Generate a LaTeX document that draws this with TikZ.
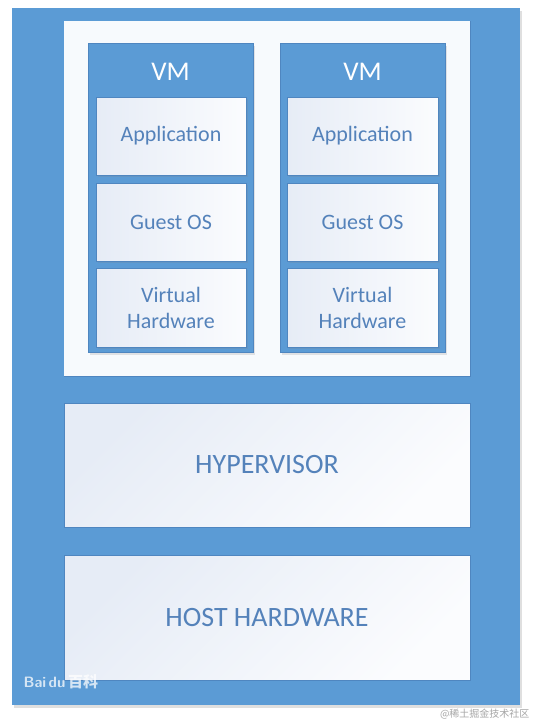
\documentclass[tikz,border=0pt]{standalone}
\usepackage{fontspec}
\setmainfont{Carlito}
\newfontfamily\cjk{Noto Sans CJK SC}
\usetikzlibrary{shadows}
\definecolor{vmblue}{HTML}{5B9BD5}
\definecolor{edgeblue}{HTML}{4F86C0}
\definecolor{txtblue}{HTML}{5482BA}
\definecolor{paleA}{HTML}{E6ECF6}
\definecolor{paleB}{HTML}{FBFCFE}
\tikzset{
  x=1pt, y=-1pt,
  outerbox/.style={fill=vmblue, draw=none, drop shadow={shadow xshift=2pt, shadow yshift=-3pt, opacity=0.25}},
  panel/.style={draw=edgeblue, line width=0.8pt, top color=paleA, bottom color=paleB, shading angle=45},
  vmbox/.style={fill=vmblue, draw=edgeblue, line width=0.6pt, drop shadow={shadow xshift=2pt, shadow yshift=-3pt, opacity=0.2}},
  layer/.style={draw=edgeblue, line width=0.8pt, left color=paleA, right color=paleB, drop shadow={shadow xshift=1.5pt, shadow yshift=-2pt, opacity=0.2}},
  lbl/.style={text=txtblue, font=\fontsize{22}{26}\selectfont, align=center},
  biglbl/.style={text=txtblue, font=\fontsize{28}{32}\selectfont},
  vmlbl/.style={text=white, font=\fontsize{27}{31}\selectfont}
}
\begin{document}
\begin{tikzpicture}
\useasboundingbox (0,0) rectangle (536,724);
\fill[white] (0,0) rectangle (536,724);
% outer
\path[outerbox] (12,8) rectangle (520,705);
% VM container
\path[draw=edgeblue, line width=0.6pt, fill=white!94!vmblue] (64,21) rectangle (470,376);
\node[inner sep=0, minimum width=406pt, minimum height=355pt, fill=white!95!vmblue] (container) at (267,198.5) {};
% VM 1
\path[vmbox] (88,43) rectangle (253,352);
\node[vmlbl] (vm1) at (170.5,72) {VM};
\path[layer] (96,97) rectangle (246,175);
\node[lbl] (app1) at (171,136) {Application};
\path[layer] (96,183) rectangle (246,261);
\node[lbl] (os1) at (171,222) {Guest OS};
\path[layer] (96,268) rectangle (246,347);
\node[lbl] (hw1) at (171,308) {Virtual\\Hardware};
% VM 2
\path[vmbox] (280,43) rectangle (445,352);
\node[vmlbl] (vm2) at (362.5,72) {VM};
\path[layer] (287,97) rectangle (438,175);
\node[lbl] (app2) at (362.5,136) {Application};
\path[layer] (287,183) rectangle (438,261);
\node[lbl] (os2) at (362.5,222) {Guest OS};
\path[layer] (287,268) rectangle (438,347);
\node[lbl] (hw2) at (362.5,308) {Virtual\\Hardware};
% hypervisor
\path[panel] (64,403) rectangle (470,527);
\node[biglbl] (hyp) at (267,465) {HYPERVISOR};
% host hardware
\path[panel] (64,555) rectangle (470,680);
\node[biglbl] (host) at (267,617.5) {HOST HARDWARE};
% watermarks
\node[text=white, opacity=0.75, font=\sffamily\bfseries\fontsize{15}{18}\selectfont, anchor=west] (baidu) at (20,682) {Bai\,du\,{\cjk 百科}};
\node[text=black!35, font=\cjk\fontsize{10}{12}\selectfont, anchor=east] (juejin) at (533,714) {@稀土掘金技术社区};
\end{tikzpicture}
\end{document}
